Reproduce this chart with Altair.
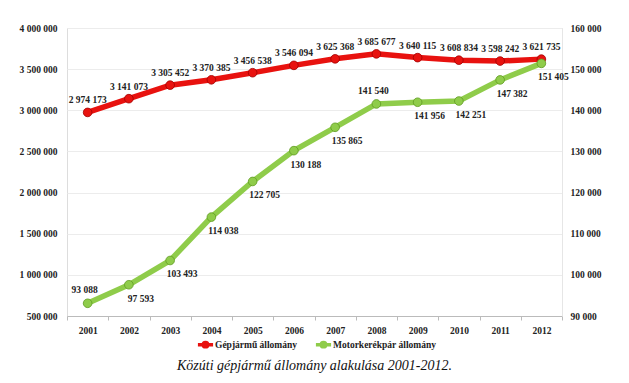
import altair as alt
import pandas as pd

years = ["2001", "2002", "2003", "2004", "2005", "2006", "2007", "2008", "2009", "2010", "2011", "2012"]
cars = [2974173, 3141073, 3305452, 3370385, 3456538, 3546094, 3625368, 3685677, 3640115, 3608834, 3598242, 3621735]
motos = [93088, 97593, 103493, 114038, 122705, 130188, 135865, 141540, 141956, 142251, 147382, 151405]
series_names = ["Gépjármű állomány", "Motorkerékpár állomány"]
caption = "Közúti gépjármű állomány alakulása 2001-2012."

left_ticks = [500000, 1000000, 1500000, 2000000, 2500000, 3000000, 3500000, 4000000]
right_ticks = [90000, 100000, 110000, 120000, 130000, 140000, 150000, 160000]

# style: which green labels sit above their point
GREEN_ABOVE = ["2001", "2008"]

RED = "#e8120f"
GREEN = "#8fcc4a"
FONT = "'Times New Roman', 'Liberation Serif', 'DejaVu Serif', serif"
FS = 9.5


def fmt(v):
    return f"{v:,}".replace(",", " ")


df_car = pd.DataFrame({"year": years, "value": cars, "series": series_names[0],
                       "label": [fmt(v) for v in cars]})
df_moto = pd.DataFrame({"year": years, "value": motos, "series": series_names[1],
                        "label": [fmt(v) for v in motos],
                        "above": [y in GREEN_ABOVE for y in years]})

x = alt.X("year:O", title=None, sort=years,
          scale=alt.Scale(paddingInner=0, paddingOuter=0, padding=0, align=0.5),
          axis=alt.Axis(labelAngle=0, labelFont=FONT, labelFontWeight="bold", labelFontSize=FS,
                        labelColor="#222", tickBand="extent", tickColor="#bbb", domainColor="#bbb",
                        tickSize=4, labelPadding=5))

color = alt.Color("series:N",
                  scale=alt.Scale(domain=series_names, range=[RED, GREEN]),
                  legend=alt.Legend(title=None, orient="none", direction="horizontal",
                                    legendX=130, legendY=308,
                                    symbolType="M-1.2,0H1.2M0.35,0A0.35,0.35,0,1,1,-0.35,0A0.35,0.35,0,1,1,0.35,0",
                                    symbolSize=160, symbolStrokeWidth=3.5,
                                    labelFont=FONT, labelFontWeight="bold", labelFontSize=FS,
                                    labelColor="#222", labelOffset=1, columnPadding=10))

label_expr = "replace(format(datum.value, ','), regexp(',', 'g'), ' ')"

yL = alt.Y("value:Q", title=None,
           scale=alt.Scale(domain=[500000, 4000000], nice=False, zero=False),
           axis=alt.Axis(values=left_ticks, labelExpr=label_expr, labelFont=FONT,
                         labelFontWeight="bold", labelFontSize=FS, labelColor="#222",
                         grid=True, gridColor="#ececec", domain=False, ticks=False,
                         labelPadding=10))
yR = alt.Y("value:Q", title=None,
           scale=alt.Scale(domain=[90000, 160000], nice=False, zero=False),
           axis=alt.Axis(orient="right", values=right_ticks, labelExpr=label_expr, labelFont=FONT,
                         labelFontWeight="bold", labelFontSize=FS, labelColor="#222",
                         grid=False, domain=True, domainColor="#e6e6e6", ticks=False,
                         labelPadding=8))

base_car = alt.Chart(df_car)
car_line = base_car.mark_line(strokeWidth=5.5).encode(x=x, y=yL, color=color)
car_pts = base_car.mark_point(filled=True, size=75, opacity=1, stroke="#a00000", strokeWidth=0.8).encode(
    x=x, y=yL, fill=alt.Fill("series:N", scale=alt.Scale(domain=series_names, range=[RED, GREEN]), legend=None))
car_lbl = base_car.mark_text(font=FONT, fontWeight="bold", fontSize=FS, color="#222",
                             baseline="bottom", dy=-7).encode(x=x, y=yL, text="label:N")
left = alt.layer(car_line, car_pts, car_lbl)

base_m = alt.Chart(df_moto)
m_line = base_m.mark_line(strokeWidth=5.5).encode(x=x, y=yR, color=color)
m_pts = base_m.mark_point(filled=True, size=75, opacity=1, stroke="#5f9a22", strokeWidth=0.8).encode(
    x=x, y=yR, fill=alt.Fill("series:N", scale=alt.Scale(domain=series_names, range=[RED, GREEN]), legend=None))
m_lbl_below = base_m.transform_filter("!datum.above").mark_text(
    font=FONT, fontWeight="bold", fontSize=FS, color="#222", baseline="top", dx=12, dy=9
).encode(x=x, y=yR, text="label:N")
m_lbl_above = base_m.transform_filter("datum.above").mark_text(
    font=FONT, fontWeight="bold", fontSize=FS, color="#222", baseline="bottom", dx=-3, dy=-8
).encode(x=x, y=yR, text="label:N")
right = alt.layer(m_line, m_pts, m_lbl_below, m_lbl_above)

chart = alt.layer(left, right).resolve_scale(y="independent").properties(
    width=495, height=288,
    padding={"left": 11, "top": 15, "right": 5, "bottom": 2},
    title=alt.TitleParams(caption, orient="bottom", anchor="middle", font=FONT, fontStyle="italic",
                          fontWeight="normal", fontSize=14, color="#111", offset=5),
).configure_view(stroke=None).configure(background="white")

chart.save("out.html", embed_options={"renderer": "svg", "actions": False})
